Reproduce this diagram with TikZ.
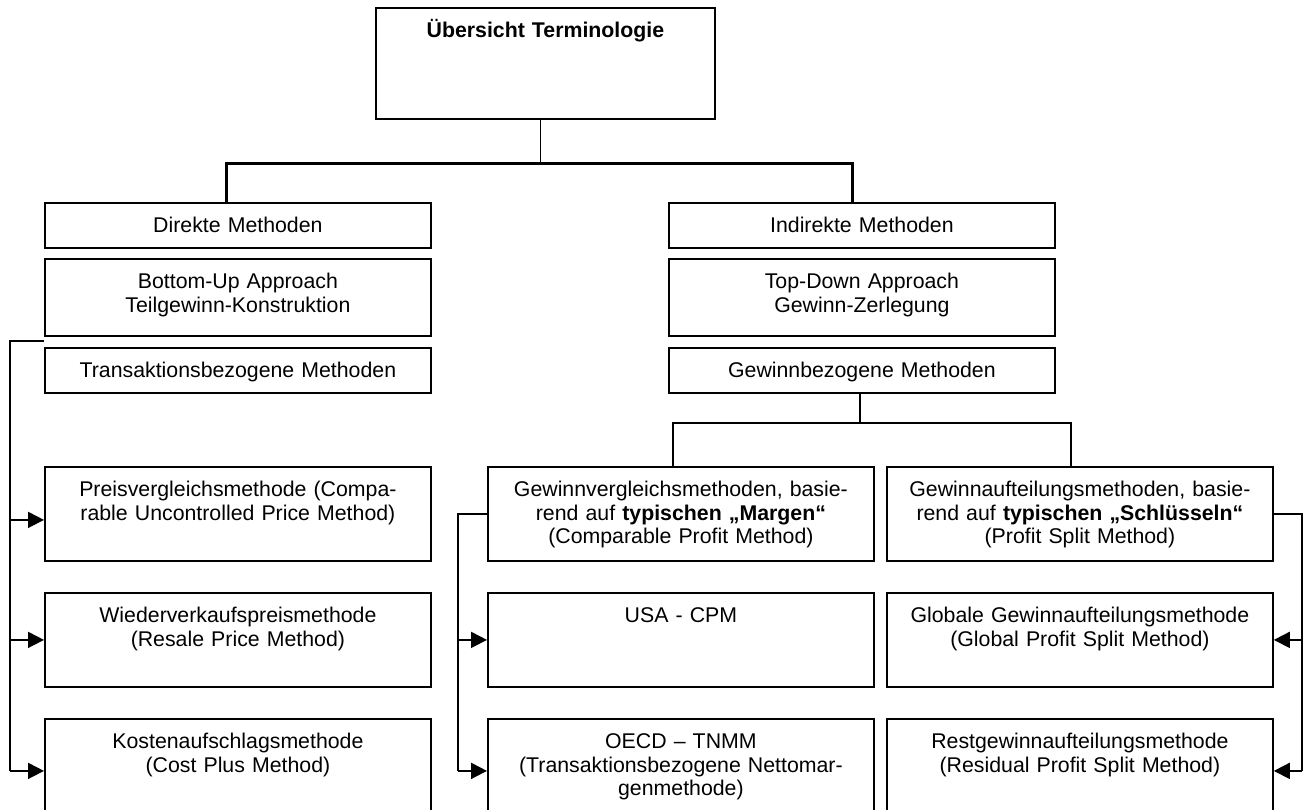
\documentclass[tikz,border=0pt]{standalone}
\usepackage{fontspec}
\setmainfont{Liberation Sans}
\usetikzlibrary{arrows.meta}

\begin{document}
\begin{tikzpicture}[
        x=1pt, y=-1pt,
        nodeBox/.style={draw=black, line width=1.8pt, anchor=north west, align=center,
            inner xsep=4pt, inner ysep=15pt, text height=15pt, text width=378pt,
            font=\fontsize{21.3}{23.5}\selectfont},
        nodeTitle/.style={nodeBox, text width=331pt, text depth=66pt,
            font=\fontsize{21.3}{23.5}\selectfont\bfseries},
        nodeFlat/.style={nodeBox, text depth=0pt},
        nodeMid/.style={nodeBox, text depth=32pt},
        nodeTall/.style={nodeBox, text depth=49pt},
        nodeLow/.style={nodeBox, text depth=59pt},
        connLine/.style={draw, line width=1.8pt},
        barLine/.style={draw, line width=3pt},
        arrowLine/.style={draw, line width=1.8pt, -{Triangle[length=16pt,width=16pt]}}
        ]
        \useasboundingbox (0,0) rectangle (1306,809);

        % Kopf
        \node[nodeTitle] (title) at (375,7) {Übersicht Terminologie};

        % linke Seite
        \node[nodeFlat] (direkt) at (44,202) {Direkte Methoden};
        \node[nodeMid] (bottomUp) at (44,258) {Bottom-Up Approach\\Teilgewinn-Konstruktion};
        \node[nodeFlat] (transakt) at (44,347) {Transaktionsbezogene Methoden};
        \node[nodeTall] (preis) at (44,466) {Preisvergleichsmethode (Compa-\\rable Uncontrolled Price Method)};
        \node[nodeTall] (wieder) at (44,592) {Wiederverkaufspreismethode\\(Resale Price Method)};
        \node[nodeLow] (kosten) at (44,718) {Kostenaufschlagsmethode\\(Cost Plus Method)};

        % rechte Seite
        \node[nodeFlat] (indirekt) at (668,202) {Indirekte Methoden};
        \node[nodeMid] (topDown) at (668,258) {Top-Down Approach\\Gewinn-Zerlegung};
        \node[nodeFlat] (gewinnbez) at (668,347) {Gewinnbezogene Methoden};
        \node[nodeTall] (margen) at (487,466) {Gewinnvergleichsmethoden, basie-\\rend auf \textbf{typischen „Margen“}\\(Comparable Profit Method)};
        \node[nodeTall] (usaCpm) at (487,592) {USA - CPM};
        \node[nodeLow] (oecd) at (487,718) {OECD – TNMM\\(Transaktionsbezogene Nettomar-\\genmethode)};
        \node[nodeTall] (schluessel) at (886,466) {Gewinnaufteilungsmethoden, basie-\\rend auf \textbf{typischen „Schlüsseln“}\\(Profit Split Method)};
        \node[nodeTall] (global) at (886,592) {Globale Gewinnaufteilungsmethode\\(Global Profit Split Method)};
        \node[nodeLow] (rest) at (886,718) {Restgewinnaufteilungsmethode\\(Residual Profit Split Method)};

        % Verbindungen oben
        \coordinate (barL) at (226,163);
        \coordinate (barR) at (852,163);
        \draw[connLine] ([xshift=-5pt]title.south) -- ([xshift=-5pt]title.south |- barL);
        \draw[barLine] (direkt.north -| barL) -- (barL) -- (barR) -- (indirekt.north -| barR);

        \coordinate (gL) at (673,423);
        \coordinate (gR) at (1071,423);
        \draw[connLine] ([xshift=-2pt]gewinnbez.south) -- ([xshift=-2pt]gewinnbez.south |- gL);
        \draw[connLine] (margen.north -| gL) -- (gL) -- (gR) -- (schluessel.north -| gR);

        % Klammer links
        \coordinate (lTop) at (10,341);
        \coordinate (preisIn) at ([yshift=-6pt]preis.west);
        \draw[connLine] (bottomUp.west |- lTop) -- (lTop) -- (lTop |- kosten.west);
        \draw[arrowLine] (lTop |- preisIn) -- (preisIn);
        \draw[arrowLine] (lTop |- wieder.west) -- (wieder.west);
        \draw[arrowLine] (lTop |- kosten.west) -- (kosten.west);

        % Klammer Mitte
        \coordinate (mX) at (458,0);
        \draw[connLine] (margen.west) -| (mX |- oecd.west);
        \draw[arrowLine] (mX |- usaCpm.west) -- (usaCpm.west);
        \draw[arrowLine] (mX |- oecd.west) -- (oecd.west);

        % Klammer rechts
        \coordinate (rX) at (1302,0);
        \draw[connLine] (schluessel.east) -| (rX |- rest.east);
        \draw[arrowLine] (rX |- global.east) -- (global.east);
        \draw[arrowLine] (rX |- rest.east) -- (rest.east);
\end{tikzpicture}
\end{document}
